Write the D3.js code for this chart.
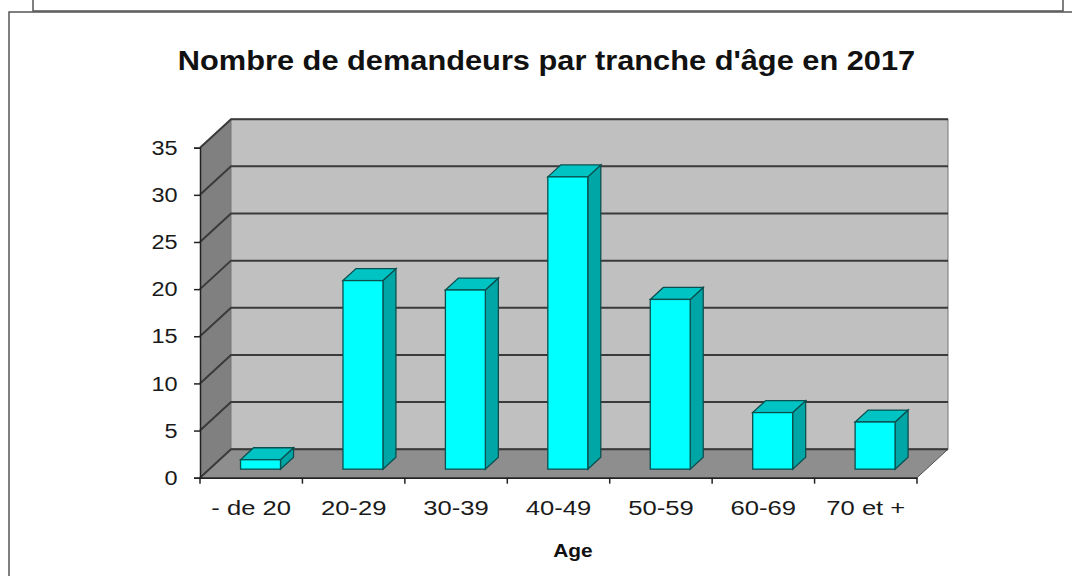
<!DOCTYPE html>
<html>
<head>
<meta charset="utf-8">
<script src="https://cdn.jsdelivr.net/npm/d3@7"></script>
<style>
  html, body { margin: 0; padding: 0; background: #fff; }
  svg { display: block; font-family: "Liberation Sans", Arial, sans-serif; }
</style>
</head>
<body>
<div id="chart"></div>
<script>
// données
const categories = ['- de 20', '20-29', '30-39', '40-49', '50-59', '60-69', '70 et +'];
const values = [1, 20, 19, 31, 18, 6, 5];
const yTicks = [0, 5, 10, 15, 20, 25, 30, 35];

const W = 1072, H = 576;
const FONT = '"Liberation Sans", Arial, sans-serif';
const svg = d3.select('#chart').append('svg')
  .attr('width', W)
  .attr('height', H);

// cadres
svg.append('rect')
  .attr('x', 33).attr('y', -10).attr('width', 1030).attr('height', 21)
  .attr('fill', '#fff').attr('stroke', '#555').attr('stroke-width', 1.5);
svg.append('rect')
  .attr('x', 9).attr('y', 12).attr('width', 1100).attr('height', 600)
  .attr('fill', '#fff').attr('stroke', '#555').attr('stroke-width', 1.5);

// titre (texte un peu étiré comme dans l'original)
svg.append('text')
  .attr('transform', 'translate(546.5,70) scale(1.14,1)')
  .attr('text-anchor', 'middle')
  .attr('font-size', 27).attr('font-weight', 'bold')
  .attr('fill', '#111')
  .text("Nombre de demandeurs par tranche d'âge en 2017");

// échelles
const x0 = 200, x1 = 917;
const depth = { dx: 31, dy: -28.5 };
const barFront = 0.3, barBack = 0.72;

const xAxisScale = d3.scaleBand().domain(categories).range([x0, x1]);
const xBar = d3.scaleBand().domain(categories).range([x0, x1])
  .paddingInner(0.61).paddingOuter(0.305);
const y = d3.scaleLinear().domain([0, 35]).range([477.7, 147.7]);

const g = svg.append('g');
const pts = a => a.map(p => p.join(',')).join(' ');

// mur gauche
g.append('polygon')
  .attr('points', pts([[x0, y(35)], [x0 + depth.dx, y(35) + depth.dy], [x0 + depth.dx, y(0) + depth.dy], [x0, y(0)]]))
  .attr('fill', '#808080');
// mur du fond
g.append('rect')
  .attr('x', x0 + depth.dx).attr('y', y(35) + depth.dy)
  .attr('width', x1 - x0).attr('height', y(0) - y(35))
  .attr('fill', '#c0c0c0').attr('stroke', '#777').attr('stroke-width', 1);
// sol
g.append('polygon')
  .attr('points', pts([[x0, y(0)], [x0 + depth.dx, y(0) + depth.dy], [x1 + depth.dx, y(0) + depth.dy], [x1, y(0)]]))
  .attr('fill', '#8e8e8e').attr('stroke', '#555').attr('stroke-width', 1);

// quadrillage
g.append('g').selectAll('polyline')
  .data(yTicks)
  .join('polyline')
  .attr('points', d => pts([[x0, y(d)], [x0 + depth.dx, y(d) + depth.dy], [x1 + depth.dx, y(d) + depth.dy]]))
  .attr('fill', 'none')
  .attr('stroke', '#3a3a3a')
  .attr('stroke-width', 2);

// barres
const bars = g.append('g').selectAll('g')
  .data(categories.map((c, i) => ({ cat: c, v: values[i] })))
  .join('g');

const fx = barFront * depth.dx, fy = barFront * depth.dy;
const bdx = (barBack - barFront) * depth.dx, bdy = (barBack - barFront) * depth.dy;

bars.each(function(d) {
  const sel = d3.select(this);
  const l = xBar(d.cat) + fx, r = l + xBar.bandwidth();
  const b = y(0) + fy, t = y(d.v) + fy;
  const stroke = { stroke: '#0b4f4f', width: 1.3 };
  // côté
  sel.append('polygon')
    .attr('points', pts([[r, t], [r + bdx, t + bdy], [r + bdx, b + bdy], [r, b]]))
    .attr('fill', '#00a6a6').attr('stroke', stroke.stroke).attr('stroke-width', stroke.width);
  // dessus
  sel.append('polygon')
    .attr('points', pts([[l, t], [l + bdx, t + bdy], [r + bdx, t + bdy], [r, t]]))
    .attr('fill', '#00c4c4').attr('stroke', stroke.stroke).attr('stroke-width', stroke.width);
  // face
  sel.append('rect')
    .attr('x', l).attr('y', t).attr('width', r - l).attr('height', b - t)
    .attr('fill', '#00ffff').attr('stroke', stroke.stroke).attr('stroke-width', stroke.width);
});

// axe Y
const yAxis = d3.axisLeft(y).tickValues(yTicks).tickSize(6).tickPadding(14);
const yg = svg.append('g').attr('transform', `translate(${x0},0)`).call(yAxis);
yg.select('.domain').attr('stroke', '#222').attr('stroke-width', 1.5);
yg.selectAll('.tick line').attr('stroke', '#222').attr('stroke-width', 1.5);
yg.selectAll('.tick text')
  .attr('font-size', 21).attr('fill', '#1a1a1a').attr('font-family', FONT)
  .attr('transform', 'scale(1.12,1)');

// axe X
const xAxis = d3.axisBottom(xAxisScale).tickSize(0).tickPadding(22);
const xg = svg.append('g').attr('transform', `translate(0,${y(0)})`).call(xAxis);
xg.select('.domain').attr('stroke', '#222').attr('stroke-width', 1.5);
xg.selectAll('.tick text')
  .attr('font-size', 21).attr('fill', '#1a1a1a').attr('font-family', FONT)
  .attr('transform', 'scale(1.22,1)');
xg.append('g').selectAll('line')
  .data(d3.range(categories.length + 1))
  .join('line')
  .attr('x1', i => x0 + i * xAxisScale.step())
  .attr('x2', i => x0 + i * xAxisScale.step())
  .attr('y1', 0).attr('y2', 6)
  .attr('stroke', '#222').attr('stroke-width', 1.5);

// titre axe
svg.append('text')
  .attr('transform', 'translate(573,557) scale(1.1,1)')
  .attr('text-anchor', 'middle')
  .attr('font-size', 19).attr('font-weight', 'bold')
  .attr('fill', '#111')
  .text('Age');
</script>
</body>
</html>
